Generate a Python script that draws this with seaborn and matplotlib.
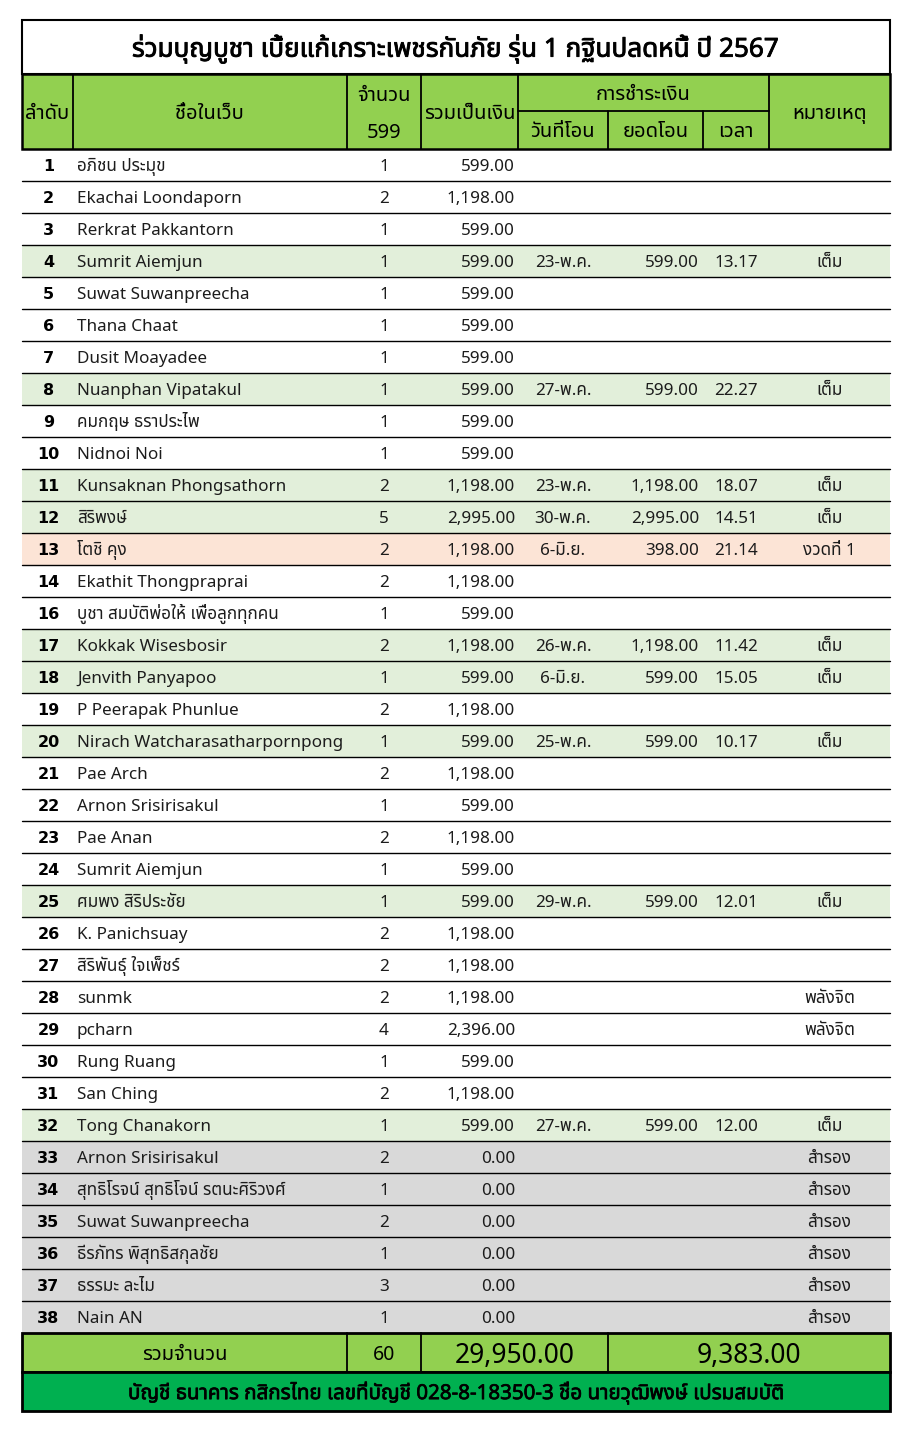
import matplotlib
matplotlib.use("Agg")
import numpy as np
import pandas as pd
import seaborn as sns
import matplotlib.pyplot as plt
import matplotlib.patheffects as pe
from matplotlib.colors import ListedColormap
from matplotlib.patches import Rectangle
from matplotlib import font_manager as fm
from matplotlib.ft2font import FT2Font

# ---------------- data ----------------
TITLE = "ร่วมบุญบูชา เบี้ยแก้เกราะเพชรกันภัย รุ่น 1 กฐินปลดหนี้ ปี 2567"
BANK = "บัญชี ธนาคาร กสิกรไทย เลขที่บัญชี 028-8-18350-3 ชื่อ นายวุฒิพงษ์ เปรมสมบัติ"
UNIT_PRICE = 599
TOTAL_LABEL = "รวมจำนวน"

seq = [1, 2, 3, 4, 5, 6, 7, 8, 9, 10, 11, 12, 13, 14, 16, 17, 18, 19, 20,
       21, 22, 23, 24, 25, 26, 27, 28, 29, 30, 31, 32, 33, 34, 35, 36, 37, 38]
names = [
    "อภิชน ประมุข", "Ekachai Loondaporn", "Rerkrat Pakkantorn", "Sumrit Aiemjun",
    "Suwat Suwanpreecha", "Thana Chaat", "Dusit Moayadee", "Nuanphan Vipatakul",
    "คมกฤษ ธราประไพ", "Nidnoi Noi", "Kunsaknan Phongsathorn", "สิริพงษ์",
    "โตชิ คุง", "Ekathit Thongpraprai", "บูชา สมบัติพ่อให้ เพื่อลูกทุกคน",
    "Kokkak Wisesbosir", "Jenvith Panyapoo", "P Peerapak Phunlue",
    "Nirach Watcharasatharpornpong", "Pae Arch", "Arnon Srisirisakul", "Pae Anan",
    "Sumrit Aiemjun", "ศมพง สิริประชัย", "K. Panichsuay", "สิริพันธุ์ ใจเพ็ชร์",
    "sunmk", "pcharn", "Rung Ruang", "San Ching", "Tong Chanakorn",
    "Arnon Srisirisakul", "สุทธิโรจน์ สุทธิโจน์ รตนะศิริวงศ์", "Suwat Suwanpreecha",
    "ธีรภัทร พิสุทธิสกุลชัย", "ธรรมะ ละไม", "Nain AN",
]
counts = [1, 2, 1, 1, 1, 1, 1, 1, 1, 1, 2, 5, 2, 2, 1, 2, 1, 2, 1,
          2, 1, 2, 1, 1, 2, 2, 2, 4, 1, 2, 1, 2, 1, 2, 1, 3, 1]
amounts = [599, 1198, 599, 599, 599, 599, 599, 599, 599, 599, 1198, 2995, 1198,
           1198, 599, 1198, 599, 1198, 599, 1198, 599, 1198, 599, 599, 1198, 1198,
           1198, 2396, 599, 1198, 599, 0, 0, 0, 0, 0, 0]
dates = ["", "", "", "23-พ.ค.", "", "", "", "27-พ.ค.", "", "", "23-พ.ค.", "30-พ.ค.",
         "6-มิ.ย.", "", "", "26-พ.ค.", "6-มิ.ย.", "", "25-พ.ค.", "", "", "", "",
         "29-พ.ค.", "", "", "", "", "", "", "27-พ.ค.", "", "", "", "", "", ""]
transfers = [None, None, None, 599, None, None, None, 599, None, None, 1198, 2995,
             398, None, None, 1198, 599, None, 599, None, None, None, None, 599,
             None, None, None, None, None, None, 599, None, None, None, None, None, None]
times = ["", "", "", "13.17", "", "", "", "22.27", "", "", "18.07", "14.51", "21.14",
         "", "", "11.42", "15.05", "", "10.17", "", "", "", "", "12.01", "", "", "",
         "", "", "", "12.00", "", "", "", "", "", ""]
remarks = ["", "", "", "เต็ม", "", "", "", "เต็ม", "", "", "เต็ม", "เต็ม", "งวดที่ 1",
           "", "", "เต็ม", "เต็ม", "", "เต็ม", "", "", "", "", "เต็ม", "", "", "พลังจิต",
           "พลังจิต", "", "", "เต็ม", "สำรอง", "สำรอง", "สำรอง", "สำรอง", "สำรอง", "สำรอง"]

headers = {
    "seq": "ลำดับ", "name": "ชื่อในเว็บ", "count": "จำนวน", "amount": "รวมเป็นเงิน",
    "pay": "การชำระเงิน", "date": "วันที่โอน", "transfer": "ยอดโอน", "time": "เวลา",
    "remark": "หมายเหตุ",
}

df = pd.DataFrame({"seq": seq, "name": names, "count": counts, "amount": amounts,
                   "date": dates, "transfer": transfers, "time": times, "remark": remarks})
status_map = {"": 0, "พลังจิต": 0, "เต็ม": 1, "งวดที่ 1": 2, "สำรอง": 3}
df["status"] = df["remark"].map(status_map)

# ---------------- fonts ----------------
def find_thai_font():
    prefs = ["Noto Sans Thai", "Noto Sans Thai UI", "Noto Sans Thai Looped", "Loma",
             "Tlwg Typo", "Garuda", "Sarabun", "Waree", "Norasi", "Kinnari", "Umpush"]
    found = {}
    for f in fm.fontManager.ttflist:
        if f.name in found:
            continue
        try:
            cmap = FT2Font(f.fname).get_charmap()
        except Exception:
            continue
        if 0x0E01 in cmap and 0x0E2A in cmap:
            found[f.name] = f.fname
    for p in prefs:
        if p in found:
            return p
    return next(iter(found), None)

sns.set_theme(style="white")
thai = find_thai_font()
FAM = ["Noto Sans"] + ([thai] if thai else []) + ["DejaVu Sans"]
HFAM = ([thai] if thai else []) + ["Noto Sans", "DejaVu Sans"]
plt.rcParams["font.family"] = FAM

# ---------------- layout ----------------
W, H = 913, 1433
X = [22, 73, 347, 421, 518, 608, 703, 769, 890]
TITLE_TOP, HEAD_TOP, HEAD_MID, BODY_TOP = 20, 74, 111, 149
ROW_H = 32
n = len(df)
FOOT_TOP = BODY_TOP + n * ROW_H
FOOT_MID = FOOT_TOP + 39
FOOT_BOT = FOOT_MID + 39
HEAD_GREEN, BANK_GREEN = "#92D050", "#00B050"
ROW_COLORS = ["#FFFFFF", "#E2EFDA", "#FCE4D6", "#D9D9D9"]
TXT = "#1c1c1c"

def heavy(w):
    return [pe.withStroke(linewidth=w, foreground="black")]

fig = plt.figure(figsize=(W / 100, H / 100), dpi=100)
fig.patch.set_facecolor("white")

# body fills via seaborn heatmap
body_ax = fig.add_axes([X[0] / W, 1 - FOOT_TOP / H, (X[-1] - X[0]) / W, n * ROW_H / H])
sns.heatmap(df[["status"]].to_numpy(), ax=body_ax, cmap=ListedColormap(ROW_COLORS),
            vmin=-0.5, vmax=3.5, cbar=False, xticklabels=False, yticklabels=False)
body_ax.axis("off")

ax = fig.add_axes([0, 0, 1, 1], zorder=3)
ax.set_xlim(0, W)
ax.set_ylim(H, 0)
ax.axis("off")
ax.patch.set_alpha(0)

def pt2px(fs):
    return fs * 100 / 72

def put(x, yc, s, fs, ha="center", fam=None, **kw):
    ax.text(x, yc + 0.37 * pt2px(fs), s, ha=ha, va="baseline", fontsize=fs,
            family=fam or FAM, color=kw.pop("color", TXT), **kw)

# title
ax.add_patch(Rectangle((X[0], TITLE_TOP), X[-1] - X[0], HEAD_TOP - TITLE_TOP,
                       facecolor="white", edgecolor="black", lw=1.5, zorder=1))
put((X[0] + X[-1]) / 2, 47, TITLE, 18.8, fam=HFAM, color="black",
    path_effects=heavy(0.6))

# header
ax.add_patch(Rectangle((X[0], HEAD_TOP), X[-1] - X[0], BODY_TOP - HEAD_TOP,
                       facecolor=HEAD_GREEN, edgecolor="black", lw=1.8, zorder=1))
for i, x in enumerate(X[1:-1], start=1):
    top = HEAD_MID if i in (5, 6) else HEAD_TOP
    ax.plot([x, x], [top, BODY_TOP], color="black", lw=1.3)
ax.plot([X[4], X[7]], [HEAD_MID, HEAD_MID], color="black", lw=1.3)
hm = (HEAD_TOP + BODY_TOP) / 2
hs = 14.5
put((X[0] + X[1]) / 2, hm, headers["seq"], hs, fam=HFAM, color="black")
put((X[1] + X[2]) / 2, hm, headers["name"], hs, fam=HFAM, color="black")
put((X[2] + X[3]) / 2, 94, headers["count"], hs, fam=HFAM, color="black")
put((X[2] + X[3]) / 2, 131, str(UNIT_PRICE), hs, fam=HFAM, color="black")
put((X[3] + X[4]) / 2, hm, headers["amount"], hs, fam=HFAM, color="black")
put((X[4] + X[7]) / 2, 93, headers["pay"], hs, fam=HFAM, color="black")
put((X[4] + X[5]) / 2, 130, headers["date"], hs, fam=HFAM, color="black")
put((X[5] + X[6]) / 2, 130, headers["transfer"], hs, fam=HFAM, color="black")
put((X[6] + X[7]) / 2, 130, headers["time"], hs, fam=HFAM, color="black")
put((X[7] + X[8]) / 2, hm, headers["remark"], hs, fam=HFAM, color="black")

# body rows
fs = 12.3
for i, r in df.iterrows():
    yc = BODY_TOP + (i + 0.5) * ROW_H
    put((X[0] + X[1]) / 2 + 1, yc, str(r["seq"]), 11.5, fam=["DejaVu Sans"],
        weight="bold", color="black")
    put(X[1] + 4, yc, r["name"], fs, ha="left")
    put((X[2] + X[3]) / 2, yc, str(r["count"]), fs)
    put(X[4] - 3, yc, f"{r['amount']:,.2f}", fs, ha="right")
    if r["date"]:
        put((X[4] + X[5]) / 2, yc, r["date"], fs)
    if pd.notna(r["transfer"]):
        put(X[6] - 4, yc, f"{r['transfer']:,.2f}", fs, ha="right")
    if r["time"]:
        put((X[6] + X[7]) / 2, yc, r["time"], fs)
    if r["remark"]:
        put((X[7] + X[8]) / 2, yc, r["remark"], fs)
for i in range(1, n):
    y = BODY_TOP + i * ROW_H
    ax.plot([X[0], X[-1]], [y, y], color="black", lw=1.0)

# footer
ax.add_patch(Rectangle((X[0], FOOT_TOP), X[-1] - X[0], FOOT_MID - FOOT_TOP,
                       facecolor=HEAD_GREEN, edgecolor="black", lw=2.0, zorder=1))
ax.add_patch(Rectangle((X[0], FOOT_MID), X[-1] - X[0], FOOT_BOT - FOOT_MID,
                       facecolor=BANK_GREEN, edgecolor="black", lw=2.0, zorder=1))
for x in (X[2], X[3], X[5]):
    ax.plot([x, x], [FOOT_TOP, FOOT_MID], color="black", lw=1.3)
fm_y = (FOOT_TOP + FOOT_MID) / 2
put((X[0] + X[2]) / 2, fm_y, TOTAL_LABEL, 14.5, fam=HFAM, color="black")
put((X[2] + X[3]) / 2, fm_y, str(int(df["count"].sum())), 14, fam=HFAM, color="black")
put((X[3] + X[5]) / 2, fm_y + 1, f"{df['amount'].sum():,.2f}", 19, fam=HFAM, color="black")
put((X[5] + X[8]) / 2, fm_y + 1, f"{df['transfer'].sum():,.2f}", 19, fam=HFAM, color="black")
put((X[0] + X[-1]) / 2, (FOOT_MID + FOOT_BOT) / 2, BANK, 14.8, fam=HFAM,
    color="black", path_effects=heavy(0.5))

fig.savefig("out.png", dpi=100, facecolor="white")
